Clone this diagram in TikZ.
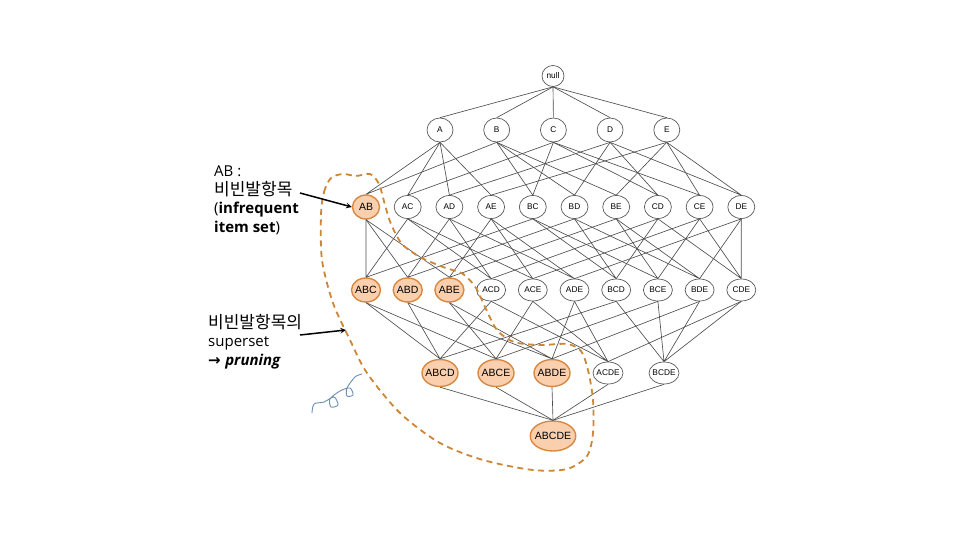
\documentclass[tikz,border=0pt]{standalone}
\usepackage{fontspec}
\newfontfamily\kfont{Noto Sans CJK KR}
\newfontfamily\latfont{Open Sans}
\newfontfamily\nodefont{Liberation Sans}
\newfontfamily\symfont{DejaVu Sans}
\usetikzlibrary{shapes.geometric}
\definecolor{prunefill}{HTML}{F9CFAE}
\definecolor{pruneborder}{HTML}{D9893F}
\definecolor{hullcolor}{HTML}{CC8636}
\definecolor{edgegray}{HTML}{4E4E4E}
\definecolor{scribblecol}{HTML}{6B8FB3}

\begin{document}
\begin{tikzpicture}[x=1pt,y=-1pt,
  setnode/.style={ellipse,draw=black!65,line width=0.7pt,fill=white,inner xsep=-4pt,inner ysep=0pt,font=\nodefont\fontsize{8.3}{8.3}\selectfont},
  lvlzero/.style={setnode,minimum width=22pt,minimum height=21pt},
  lvlone/.style={setnode,minimum width=26pt,minimum height=24pt},
  lvltwo/.style={setnode,minimum width=27pt,minimum height=23pt},
  lvlthree/.style={setnode,minimum width=29pt,minimum height=22pt},
  lvlfour/.style={setnode,minimum width=30pt,minimum height=22pt},
  lvlfive/.style={setnode,minimum width=43pt,minimum height=30pt},
  plainset/.style={},
  pruned/.style={draw=pruneborder,fill=prunefill,line width=1.4pt,inner xsep=-2pt,minimum height=24pt,font=\nodefont\fontsize{10.5}{10.5}\selectfont},
  prunedbig/.style={pruned,minimum width=36pt,minimum height=27pt},
  link/.style={draw=edgegray,line width=0.65pt},
  hull/.style={draw=hullcolor,line width=1.8pt,dash pattern=on 6pt off 4.5pt},
  callout/.style={-stealth,line width=1.5pt},
  note/.style={align=left,anchor=north west,inner sep=0pt,font=\fontsize{15}{18.5}\selectfont},
]
\useasboundingbox (0,0) rectangle (960,540);

% lattice of item sets
\node[lvlzero] (nnull) at (553,76) {null};
\foreach \s [count=\i from 0] in {A,B,C,D,E}
  \node[lvlone] (n\s) at (440+56.7*\i,130) {\s};
\foreach \a/\b/\st [count=\i from 0] in {A/B/pruned,A/C/plainset,A/D/plainset,A/E/plainset,B/C/plainset,B/D/plainset,B/E/plainset,C/D/plainset,C/E/plainset,D/E/plainset}
  \node[lvltwo,\st] (n\a\b) at (366+41.7*\i,207) {\a\b};
\foreach \a/\b/\c/\st [count=\i from 0] in {A/B/C/pruned,A/B/D/pruned,A/B/E/pruned,A/C/D/plainset,A/C/E/plainset,A/D/E/plainset,B/C/D/plainset,B/C/E/plainset,B/D/E/plainset,C/D/E/plainset}
  \node[lvlthree,\st] (n\a\b\c) at (366+41.7*\i,290) {\a\b\c};
\foreach \a/\b/\c/\d/\st [count=\i from 0] in {A/B/C/D/prunedbig,A/B/C/E/prunedbig,A/B/D/E/prunedbig,A/C/D/E/plainset,B/C/D/E/plainset}
  \node[lvlfour,\st] (n\a\b\c\d) at (440+56*\i,373) {\a\b\c\d};
\node[lvlfive,pruned,minimum height=30pt] (nABCDE) at (553,436) {ABCDE};

% subset links
\foreach \s in {A,B,C,D,E}
  \draw[link] (nnull.south) -- (n\s.north);
\foreach \a/\b in {A/B,A/C,A/D,A/E,B/C,B/D,B/E,C/D,C/E,D/E}
  \draw[link] (n\a.south) -- (n\a\b.north) (n\b.south) -- (n\a\b.north);
\foreach \a/\b/\c in {A/B/C,A/B/D,A/B/E,A/C/D,A/C/E,A/D/E,B/C/D,B/C/E,B/D/E,C/D/E}
  \draw[link] (n\a\b.south) -- (n\a\b\c.north) (n\a\c.south) -- (n\a\b\c.north)
    (n\b\c.south) -- (n\a\b\c.north);
\foreach \a/\b/\c/\d in {A/B/C/D,A/B/C/E,A/B/D/E,A/C/D/E,B/C/D/E}
  \draw[link] (n\a\b\c.south) -- (n\a\b\c\d.north) (n\a\b\d.south) -- (n\a\b\c\d.north)
    (n\a\c\d.south) -- (n\a\b\c\d.north) (n\b\c\d.south) -- (n\a\b\c\d.north);
\foreach \s in {ABCD,ABCE,ABDE,ACDE,BCDE}
  \draw[link] (n\s.south) -- (nABCDE.north);

% pruned region
\draw[hull] plot[smooth cycle] coordinates {(321,215) (324,192) (331,178) (343,174) (356,176)
  (370,174) (379,184) (385,205) (391,224) (402,244) (420,257) (443,267) (463,274) (476,288)
  (485,307) (497,330) (514,342) (540,345) (567,344) (581,351) (588,370) (593,400) (593,433)
  (587,456) (567,469) (533,470) (483,460) (440,443) (400,413) (367,373) (350,340) (333,303)
  (322,260)};

% notes
\node[note] (abnote) at (214,166) {\latfont AB :\\ \kfont\fontsize{17}{18.5}\selectfont 비빈발항목\\
  \latfont(\textbf{infrequent}\\ \latfont\textbf{item set})};
\node[note] (supnote) at (208,314) {\kfont\fontsize{17}{18.5}\selectfont 비빈발항목의\\ \latfont superset\\
  {\symfont\bfseries →} \latfont\textbf{\textit{pruning}}};
\coordinate (abtail) at (300,193);
\coordinate (suptail) at (300,335);
\coordinate (hullpt) at (346,330);
\draw[callout] (abtail) -- (nAB.west);
\draw[callout] (suptail) -- (hullpt);

% pen scribble
\draw[scribblecol,line width=0.9pt,line cap=round] plot[smooth] coordinates {(312,413) (314,404)
  (324,402) (334,397) (338,405) (331,407) (330,399) (340,391) (350,388) (353,395) (347,396)
  (347,388) (355,377) (362,374)};
\end{tikzpicture}
\end{document}
